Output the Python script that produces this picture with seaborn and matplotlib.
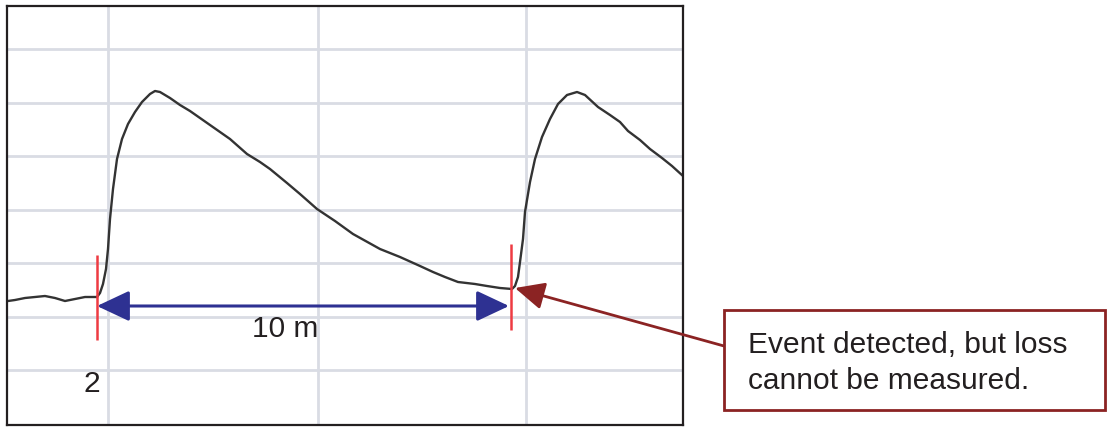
import numpy as np
import pandas as pd
import matplotlib
matplotlib.use("Agg")
import matplotlib.pyplot as plt
import seaborn as sns
from matplotlib.patches import Rectangle

# trace (x, y in screen-like units, y grows downward)
trace_x = [8, 15, 25, 35, 45, 55, 65, 75, 85, 92, 97, 100, 103, 106, 108, 110, 113,
           117, 122, 128, 135, 142, 150, 155, 160, 170, 180, 190, 200, 210, 220, 230,
           247, 260, 270, 287, 300, 317, 335, 353, 380, 400, 420, 433, 445, 458, 475,
           487, 500, 512, 515, 518, 520, 523, 525, 530, 535, 542, 550, 558, 567, 577,
           585, 598, 610, 620, 628, 640, 650, 662, 672, 683]
trace_y = [302, 301, 299, 298, 297, 299, 302, 300, 298, 298, 298, 294, 285, 270, 250,
           220, 190, 160, 140, 125, 113, 103, 95, 92, 93, 99, 106, 112, 119, 126, 133,
           140, 155, 163, 170, 184, 195, 210, 222, 235, 250, 258, 267, 273, 278, 283, 285,
           287, 289, 290, 287, 278, 263, 240, 213, 183, 160, 138, 120, 105, 96, 93,
           96, 108, 116, 123, 132, 141, 150, 159, 167, 177]

grid_x = [108, 318, 526]
grid_y = [50, 104, 157, 211, 264, 318, 371]

event_x = [97, 511]
event_top = [256, 245]
event_bottom = [341, 331]

span_label = "10 m"
event_label = "2"
note_text = "Event detected, but loss\ncannot be measured."

sns.set_theme(style="white")
plt.rcParams['font.family'] = ['Liberation Sans', 'DejaVu Sans']

fig = plt.figure(figsize=(11.11, 4.31), dpi=100)
ax = fig.add_axes([7 / 1111, 5 / 431, 676 / 1111, 419 / 431])
ax.set_xlim(7, 683)
ax.set_ylim(426, 7)

ax.set_xticks(grid_x)
ax.set_yticks(grid_y)
ax.set_xticklabels([])
ax.set_yticklabels([])
ax.tick_params(length=0)
ax.grid(True, color="#d9dce4", linewidth=2)
ax.set_axisbelow(True)
for s in ax.spines.values():
    s.set_color("#231f20")
    s.set_linewidth(1.6)

df = pd.DataFrame({"x": trace_x, "y": trace_y})
sns.lineplot(data=df, x="x", y="y", ax=ax, color="#333333", linewidth=1.7, sort=False)
ax.set_xlabel("")
ax.set_ylabel("")

# event markers
ax.vlines(event_x, event_top, event_bottom, color="#ee3b42", linewidth=1.8, zorder=3)

# span arrow
blue = "#2e3192"
ax.annotate("", xy=(event_x[0], 307), xytext=(event_x[1] - 2, 307),
            arrowprops=dict(arrowstyle="<|-|>,head_length=1.0,head_width=0.47",
                            mutation_scale=20, color=blue, lw=2.2,
                            shrinkA=0, shrinkB=0), zorder=4)
ax.text(285, 329, span_label, ha="center", va="center", fontsize=21.5, color="#231f20")
ax.text(92, 384, event_label, ha="center", va="center", fontsize=21.5, color="#231f20")

# callout
dark_red = "#8b2323"
ax.annotate("", xy=(515, 289), xytext=(724, 347),
            arrowprops=dict(arrowstyle="-|>,head_length=0.9,head_width=0.42",
                            mutation_scale=20, color=dark_red, lw=2,
                            shrinkA=0, shrinkB=0),
            annotation_clip=False, zorder=5)
box = Rectangle((724, 311), 381, 100, facecolor="white", edgecolor=dark_red,
                linewidth=2, clip_on=False, zorder=5)
ax.add_patch(box)
ax.text(748, 363, note_text, ha="left", va="center", fontsize=21.5,
        color="#231f20", linespacing=1.4, clip_on=False, zorder=6)

fig.savefig("out.png", dpi=100)
